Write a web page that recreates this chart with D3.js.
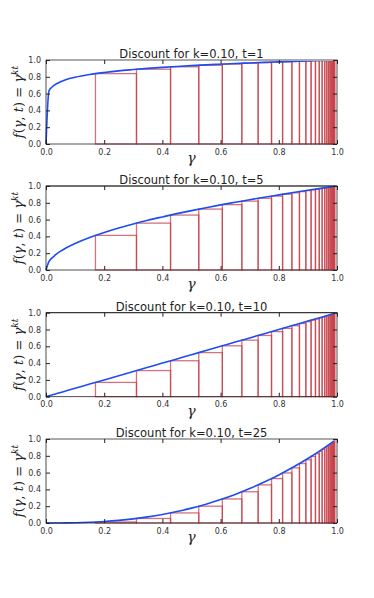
<!DOCTYPE html>
<html>
<head>
<meta charset="utf-8">
<script src="https://cdn.jsdelivr.net/npm/d3@7"></script>
<style>
body { margin: 0; background: #fff; }
</style>
</head>
<body>
<div id="canvas"></div>
<script>
// valores de t para cada panel
var t_values = [1, 5, 10, 25];
var k_label = '0.10';

// gamma donde se muestrea la curva azul
var gammas = [0, 0.01, 0.02, 0.03, 0.05, 0.07, 0.1, 0.15, 0.2, 0.25, 0.3, 0.35, 0.4, 0.45, 0.5, 0.55, 0.6, 0.65, 0.7, 0.75, 0.8, 0.85, 0.9, 0.95, 0.99];

var curve_t1 = [0, 0.631, 0.676, 0.704, 0.741, 0.767, 0.794, 0.827, 0.851, 0.871, 0.886, 0.900, 0.912, 0.923, 0.933, 0.942, 0.950, 0.958, 0.965, 0.972, 0.978, 0.984, 0.990, 0.995, 0.999];
var curve_t5 = [0, 0.100, 0.141, 0.173, 0.224, 0.265, 0.316, 0.387, 0.447, 0.500, 0.548, 0.592, 0.632, 0.671, 0.707, 0.742, 0.775, 0.806, 0.837, 0.866, 0.894, 0.922, 0.949, 0.975, 0.995];
var curve_t10 = [0, 0.01, 0.02, 0.03, 0.05, 0.07, 0.1, 0.15, 0.2, 0.25, 0.3, 0.35, 0.4, 0.45, 0.5, 0.55, 0.6, 0.65, 0.7, 0.75, 0.8, 0.85, 0.9, 0.95, 0.99];
var curve_t25 = [0, 0.00001, 0.00006, 0.00016, 0.00056, 0.0013, 0.0032, 0.0087, 0.0179, 0.0313, 0.0493, 0.0725, 0.1012, 0.1358, 0.1768, 0.2243, 0.2789, 0.3406, 0.4100, 0.4871, 0.5724, 0.6661, 0.7684, 0.8797, 0.9752];

// bordes de las barras rojas
var bar_edges = [0.170, 0.311, 0.428, 0.525, 0.606, 0.673, 0.729, 0.775, 0.813, 0.845, 0.871, 0.893, 0.911, 0.926, 0.939, 0.949, 0.958, 0.965, 0.971, 0.976, 0.980, 0.984, 0.987, 0.989, 0.991, 0.993];

// alturas de las barras (valor en el borde izquierdo)
var bars_t1 = [0.838, 0.890, 0.919, 0.938, 0.951, 0.961, 0.969, 0.975, 0.979, 0.983, 0.986, 0.989, 0.991, 0.992, 0.994, 0.995, 0.996, 0.996, 0.997, 0.998, 0.998, 0.998, 0.999, 0.999, 0.999];
var bars_t5 = [0.412, 0.558, 0.654, 0.725, 0.778, 0.820, 0.854, 0.880, 0.902, 0.919, 0.933, 0.945, 0.954, 0.962, 0.969, 0.974, 0.979, 0.982, 0.985, 0.988, 0.990, 0.992, 0.993, 0.994, 0.995];
var bars_t10 = [0.170, 0.311, 0.428, 0.525, 0.606, 0.673, 0.729, 0.775, 0.813, 0.845, 0.871, 0.893, 0.911, 0.926, 0.939, 0.949, 0.958, 0.965, 0.971, 0.976, 0.980, 0.984, 0.987, 0.989, 0.991];
var bars_t25 = [0.012, 0.054, 0.120, 0.200, 0.286, 0.372, 0.454, 0.529, 0.596, 0.656, 0.708, 0.753, 0.792, 0.825, 0.854, 0.877, 0.898, 0.915, 0.929, 0.941, 0.951, 0.961, 0.968, 0.973, 0.978];

var curves = [curve_t1, curve_t5, curve_t10, curve_t25];
var bars = [bars_t1, bars_t5, bars_t10, bars_t25];

var tick_values = [0, 0.2, 0.4, 0.6, 0.8, 1.0];

/* ------------- d3 definitions ---------- */
var width = 374,
	height = 598;

var plot_left = 46, plot_right = 337, plot_h = 84;
var plot_tops = [60, 186, 312.7, 439];
var serif = '"DejaVu Serif", "Liberation Serif", serif';
var sans = '"DejaVu Sans", sans-serif';

var x_scale = d3.scaleLinear()
	.domain([0, 1])
	.range([plot_left, plot_right]);

var canvas = d3.select('#canvas')
	.append('svg')
	.attr('width', width)
	.attr('height', height);

function draw_panel(p) {
	var top_y = plot_tops[p];
	var y_scale = d3.scaleLinear()
		.domain([0, 1])
		.range([top_y + plot_h, top_y]);

	var g = canvas.append('g');

	// barras
	var bar_data = bars[p].map(function(h, i) {
		return {x0: bar_edges[i], x1: bar_edges[i + 1], h: h};
	});
	g.selectAll('rect.bar')
		.data(bar_data)
		.enter()
		.append('rect')
			.attr('class', 'bar')
			.attr('x', function(d) { return x_scale(d.x0); })
			.attr('y', function(d) { return y_scale(d.h); })
			.attr('width', function(d) { return x_scale(d.x1) - x_scale(d.x0); })
			.attr('height', function(d) { return y_scale(0) - y_scale(d.h); })
			.attr('fill', 'none')
			.attr('stroke', '#c43d45')
			.attr('stroke-opacity', 0.72)
			.attr('stroke-width', 1.3);

	// curva
	var lineFunction = d3.line()
		.x(function(d) { return x_scale(d.x); })
		.y(function(d) { return y_scale(d.y); })
		.curve(d3.curveMonotoneX);

	var line_data = gammas.map(function(gm, i) { return {x: gm, y: curves[p][i]}; });

	g.append('path')
		.attr('d', lineFunction(line_data))
		.attr('fill', 'none')
		.attr('stroke', '#1d4cf5')
		.attr('stroke-width', 1.6);

	// marco
	var gray_top = (p === 0 || p === 3);
	g.append('rect')
		.attr('x', plot_left)
		.attr('y', top_y)
		.attr('width', plot_right - plot_left)
		.attr('height', plot_h)
		.attr('fill', 'none')
		.attr('stroke', '#222')
		.attr('stroke-width', 0.8);
	g.append('line')
		.attr('x1', plot_left).attr('x2', plot_right)
		.attr('y1', top_y).attr('y2', top_y)
		.attr('stroke', gray_top ? '#aaa' : '#222')
		.attr('stroke-width', gray_top ? 2.2 : 0.8);

	// ejes (ticks hacia adentro, en los cuatro lados)
	g.append('g')
		.attr('transform', 'translate(0,' + (top_y + plot_h) + ')')
		.call(d3.axisBottom(x_scale).tickValues(tick_values).tickSizeInner(-4).tickSizeOuter(0).tickPadding(5).tickFormat(d3.format('.1f')))
		.call(function(a) { a.select('.domain').remove(); });
	g.append('g')
		.attr('transform', 'translate(0,' + top_y + ')')
		.call(d3.axisTop(x_scale).tickValues(tick_values).tickSizeInner(-4).tickSizeOuter(0).tickFormat(''))
		.call(function(a) { a.select('.domain').remove(); });
	g.append('g')
		.attr('transform', 'translate(' + plot_left + ',0)')
		.call(d3.axisLeft(y_scale).tickValues(tick_values).tickSizeInner(-4).tickSizeOuter(0).tickPadding(5).tickFormat(d3.format('.1f')))
		.call(function(a) { a.select('.domain').remove(); });
	g.append('g')
		.attr('transform', 'translate(' + plot_right + ',0)')
		.call(d3.axisRight(y_scale).tickValues(tick_values).tickSizeInner(-4).tickSizeOuter(0).tickFormat(''))
		.call(function(a) { a.select('.domain').remove(); });

	g.selectAll('.tick text')
		.attr('font-size', 8)
		.attr('font-family', sans)
		.attr('fill', '#333');
	g.selectAll('.tick line')
		.attr('stroke', '#222');

	// titulo
	g.append('text')
		.attr('x', (plot_left + plot_right) / 2)
		.attr('y', top_y - 2)
		.attr('text-anchor', 'middle')
		.attr('font-family', sans)
		.attr('font-size', 11.5)
		.attr('fill', '#222')
		.text('Discount for k=' + k_label + ', t=' + t_values[p]);

	// etiqueta x
	g.append('text')
		.attr('x', (plot_left + plot_right) / 2)
		.attr('y', top_y + plot_h + 19)
		.attr('text-anchor', 'middle')
		.attr('font-family', serif)
		.attr('font-style', 'italic')
		.attr('font-size', 14)
		.attr('fill', '#222')
		.text('γ');

	// etiqueta y
	var yl = g.append('text')
		.attr('transform', 'translate(23,' + (top_y + plot_h / 2) + ') rotate(-90)')
		.attr('text-anchor', 'middle')
		.attr('font-family', serif)
		.attr('font-size', 13)
		.attr('fill', '#222');
	yl.append('tspan').attr('font-style', 'italic').text('f');
	yl.append('tspan').text('(');
	yl.append('tspan').attr('font-style', 'italic').text('γ');
	yl.append('tspan').text(', ');
	yl.append('tspan').attr('font-style', 'italic').text('t');
	yl.append('tspan').text(') = ');
	yl.append('tspan').attr('font-style', 'italic').text('γ');
	yl.append('tspan').attr('font-style', 'italic').attr('font-size', 9).attr('dy', -5).text('kt');
}

for (var p = 0; p < t_values.length; p++) {
	draw_panel(p);
}
/* ------------ end d3 definitions ------------ */
</script>
</body>
</html>
